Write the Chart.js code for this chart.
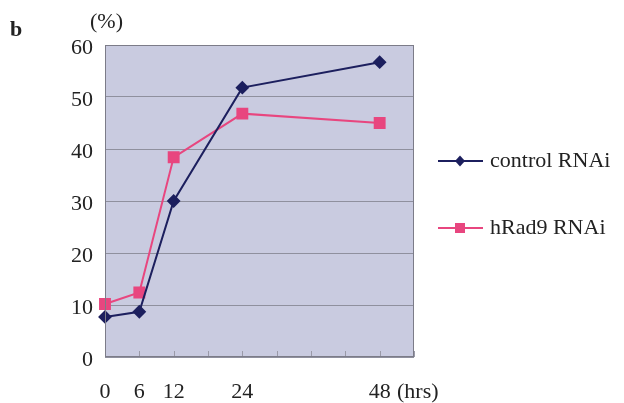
<!DOCTYPE html>
<html>
<head>
<meta charset="utf-8">
<script src="https://cdn.jsdelivr.net/npm/chart.js@4/dist/chart.umd.min.js"></script>
<style>
  html, body { margin: 0; padding: 0; background: #fff; }
  #wrap { width: 624px; height: 403px; position: relative; }
</style>
</head>
<body>
<div id="wrap"><canvas id="lineChart" width="624" height="403"></canvas></div>
<script>
// data
const hours = [0, 6, 12, 24, 48]
const labeledHours = [0, 6, 12, 24, 48]
const controlValues = [7.7, 8.7, 30, 51.8, 56.7]
const rad9Values = [10.2, 12.4, 38.4, 46.8, 45]
const seriesNames = ['control RNAi', 'hRad9 RNAi']
const yTicks = [0, 10, 20, 30, 40, 50, 60]

const navy = '#1c1f5e'
const pink = '#e8467f'
const serif = "'Liberation Serif', 'DejaVu Serif', serif"

// plot background, inner x ticks, side legend, small texts
const decoPlugin = {
  id: 'deco',
  beforeDraw (chart) {
    const { ctx, chartArea: a } = chart
    ctx.save()
    ctx.fillStyle = '#c9cbe0'
    ctx.fillRect(a.left, a.top, a.right - a.left, a.bottom - a.top)
    ctx.restore()
  },
  afterDatasetsDraw (chart) {
    const { ctx, chartArea: a } = chart
    const xs = chart.scales.x
    ctx.save()
    // short tick marks inside the bottom edge
    ctx.strokeStyle = '#9a9aa8'
    ctx.lineWidth = 1
    xs.ticks.forEach((t) => {
      const x = Math.round(xs.getPixelForValue(t.value)) + 0.5
      ctx.beginPath()
      ctx.moveTo(x, a.bottom)
      ctx.lineTo(x, a.bottom - 6)
      ctx.stroke()
    })
    // border
    ctx.strokeStyle = '#7c7c88'
    ctx.strokeRect(a.left + 0.5, a.top + 0.5, a.right - a.left - 1, a.bottom - a.top - 1)

    // legend
    const rows = [161, 228]
    chart.data.datasets.forEach((ds, i) => {
      const y = rows[i]
      ctx.strokeStyle = ds.borderColor
      ctx.lineWidth = 2
      ctx.beginPath()
      ctx.moveTo(438, y)
      ctx.lineTo(483, y)
      ctx.stroke()
      ctx.fillStyle = ds.pointBackgroundColor
      ctx.beginPath()
      if (ds.pointStyle === 'rectRot') {
        ctx.moveTo(460, y - 5.5)
        ctx.lineTo(465, y)
        ctx.lineTo(460, y + 5.5)
        ctx.lineTo(455, y)
      } else {
        ctx.rect(455, y - 5, 10, 10)
      }
      ctx.closePath()
      ctx.fill()
      ctx.fillStyle = '#222'
      ctx.font = '22px ' + serif
      ctx.textAlign = 'left'
      ctx.textBaseline = 'middle'
      ctx.fillText(ds.label, 490, y)
    })

    ctx.fillStyle = '#222'
    ctx.font = 'bold 22px ' + serif
    ctx.textBaseline = 'middle'
    ctx.fillText('b', 10, 30)
    ctx.font = '22px ' + serif
    ctx.fillText('(%)', 90, 22)
    ctx.fillText('(hrs)', 397, 392)
    ctx.restore()
  }
}

const ctx = document.getElementById('lineChart')
new Chart(ctx, {
  type: 'line',
  data: {
    datasets: [
      {
        label: seriesNames[0],
        data: hours.map((h, i) => ({ x: h, y: controlValues[i] })),
        borderColor: navy,
        backgroundColor: navy,
        pointBackgroundColor: navy,
        pointBorderColor: navy,
        pointStyle: 'rectRot',
        pointRadius: 5.5,
        borderWidth: 2,
        tension: 0
      },
      {
        label: seriesNames[1],
        data: hours.map((h, i) => ({ x: h, y: rad9Values[i] })),
        borderColor: pink,
        backgroundColor: pink,
        pointBackgroundColor: pink,
        pointBorderColor: pink,
        pointStyle: 'rect',
        pointRadius: 7,
        borderWidth: 2,
        tension: 0
      }
    ]
  },
  plugins: [decoPlugin],
  options: {
    responsive: false,
    animation: false,
    clip: false,
    layout: { padding: { left: 0, top: 45, right: 210, bottom: 0 } },
    plugins: {
      legend: { display: false },
      tooltip: { enabled: false }
    },
    scales: {
      x: {
        type: 'linear',
        min: 0,
        max: 54,
        afterFit (scale) { scale.height = 46 },
        ticks: {
          stepSize: 6,
          autoSkip: false,
          maxRotation: 0,
          padding: 14,
          color: '#222',
          font: { family: serif, size: 22 },
          callback: (v) => labeledHours.includes(v) ? String(v) : ''
        },
        grid: { display: false },
        border: { display: false }
      },
      y: {
        min: 0,
        max: 60,
        afterFit (scale) { scale.width = 105 },
        afterBuildTicks (scale) { scale.ticks = yTicks.map((v) => ({ value: v })) },
        ticks: {
          padding: 12,
          labelOffset: 3,
          color: '#222',
          font: { family: serif, size: 22 }
        },
        grid: { color: '#8f909e', lineWidth: 1, drawTicks: false },
        border: { display: false }
      }
    }
  }
})
</script>
</body>
</html>
